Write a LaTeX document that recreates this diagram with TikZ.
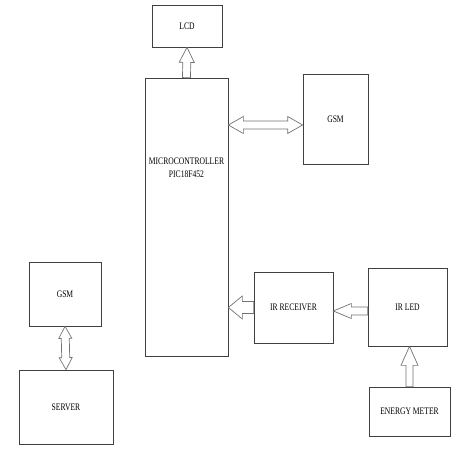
\documentclass[tikz,border=0pt]{standalone}
\usepackage{fontspec}
\setmainfont{Liberation Serif}[FakeStretch=0.76]
\usetikzlibrary{calc}

\tikzset{
	blk/.style={draw=black!75, line width=0.7pt, minimum width=#1, font=\fontsize{10}{12}\selectfont, inner sep=0pt},
	hollow/.style={draw=black!55, line width=0.7pt, fill=white, line join=miter}
}

% single block arrow: from, to, half shaft, half head, head length
\newcommand\blockarrow[5]{%
	\coordinate (h) at ($(#2)!#5!(#1)$);
	\draw[hollow] ($(#1)!#3!90:(#2)$) -- ($(h)!#3!90:(#2)$) -- ($(h)!#4!90:(#2)$) -- (#2)
		-- ($(h)!#4!-90:(#2)$) -- ($(h)!#3!-90:(#2)$) -- ($(#1)!#3!-90:(#2)$) -- cycle;
}
% double block arrow: from, to, half shaft, half head, head length
\newcommand\blockarrows[5]{%
	\coordinate (ha) at ($(#1)!#5!(#2)$);
	\coordinate (hb) at ($(#2)!#5!(#1)$);
	\draw[hollow] (#1) -- ($(ha)!#4!90:(#2)$) -- ($(ha)!#3!90:(#2)$) -- ($(hb)!#3!90:(#2)$)
		-- ($(hb)!#4!90:(#2)$) -- (#2) -- ($(hb)!#4!-90:(#2)$) -- ($(hb)!#3!-90:(#2)$)
		-- ($(ha)!#3!-90:(#2)$) -- ($(ha)!#4!-90:(#2)$) -- cycle;
}

\begin{document}
\begin{tikzpicture}[x=1pt,y=-1pt]
	\useasboundingbox (0,0) rectangle (474,457);
	
	%BLOCKS
	\node[blk=70pt, minimum height=42pt]  (lcd)    at (187,26)    {LCD};
	\node[blk=83pt, minimum height=278pt] (micro)  at (186.5,217) {};
	\node[align=center, font=\fontsize{10}{13}\selectfont] (mctext) at (186.5,168) {MICROCONTROLLER\\PIC18F452};
	\node[blk=65pt, minimum height=90pt]  (gsmA)   at (335.5,119) {GSM};
	\node[blk=72pt, minimum height=64pt]  (gsmB)   at (65,294)    {GSM};
	\node[blk=94pt, minimum height=74pt]  (server) at (66,407)    {SERVER};
	\node[blk=79pt, minimum height=71pt]  (irrec)  at (293.5,307.5) {IR RECEIVER};
	\node[blk=79pt, minimum height=78pt]  (irled)  at (407.5,307) {IR LED};
	\node[blk=81pt, minimum height=49pt]  (meter)  at (409.5,411.5) {ENERGY METER};
	
	%ARROWS
	\coordinate (mcgsm) at ([yshift=-6pt]micro.east |- gsmA.west);
	\coordinate (gsmin) at ([yshift=-6pt]gsmA.west);
	\coordinate (ledout) at ([yshift=-4pt]irled.west);
	\coordinate (recin) at ([yshift=-4pt]irled.west -| irrec.east);
	\coordinate (mcin) at (irrec.west -| micro.east);
	\coordinate (ledin) at (meter.north |- irled.south);
	\blockarrow{micro.north}{lcd.south}{4pt}{7.5pt}{15pt}
	\blockarrows{mcgsm}{gsmin}{4pt}{8.5pt}{15pt}
	\blockarrow{irrec.west}{mcin}{6pt}{11.5pt}{14pt}
	\blockarrow{ledout}{recin}{4pt}{7.5pt}{18pt}
	\blockarrow{meter.north}{ledin}{3.5pt}{8.5pt}{19pt}
	\blockarrows{gsmB.south}{server.north}{4pt}{6.5pt}{12pt}
	
\end{tikzpicture}
\end{document}
